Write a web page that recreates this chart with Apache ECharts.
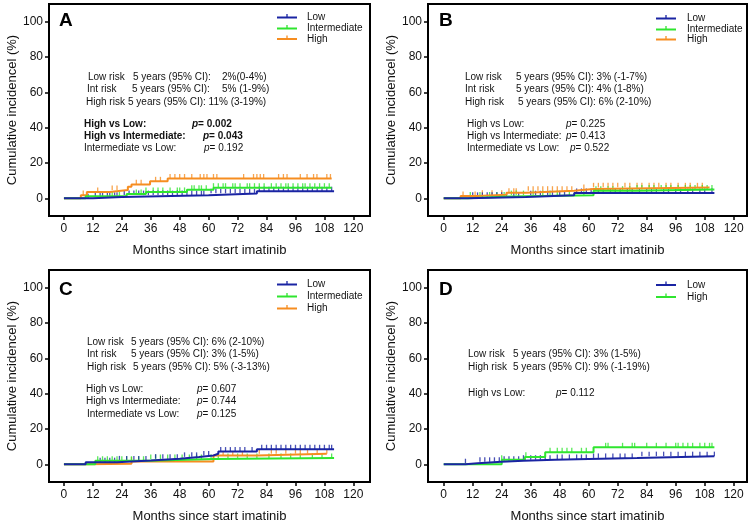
<!DOCTYPE html>
<html>
<head>
<meta charset="utf-8">
<script src="https://cdn.jsdelivr.net/npm/echarts@6/dist/echarts.min.js"></script>
<style>html,body{margin:0;padding:0;background:#fff}#c{width:752px;height:524px}</style>
</head>
<body>
<div id="c"></div>
<script>
// ---- tick labels ----
const xTicks = [0, 12, 24, 36, 48, 60, 72, 84, 96, 108, 120];
const yTicks = [0, 20, 40, 60, 80, 100];

// ---- step data: [month, cumulative incidence %] ----
const aHighSteps = [[0,0],[7,1.8],[9.5,3.6],[19,4.7],[26.5,6.6],[28,7.9],[35.7,9.6],[43,11.2],[111,11.2]];
const aIntSteps  = [[0,0],[9,1.2],[26,2.4],[34,3.6],[51,4.8],[62,6.0],[111,6.0]];
const aLowSteps  = [[0,0],[12,0.8],[24,1.8],[60,2.8],[80,4.0],[112,4.0]];

const bHighSteps = [[0,0],[7,1.3],[14,2.0],[26,3.2],[34,4.3],[54,5.3],[62,6.2],[110,6.2]];
const bIntSteps  = [[0,0],[10,1.0],[27,1.8],[62,4.3],[80,5.0],[112,5.0]];
const bLowSteps  = [[0,0],[10,0.8],[34,1.7],[54,3.0],[112,3.0]];

const cHighSteps = [[0,0],[9,0.4],[28,1.6],[62,5.0],[80,6.0],[109,6.0]];
const cIntSteps  = [[0,0],[13,2.0],[35,3.0],[62,3.6],[112,3.6]];
const cLowSteps  = [[0,0],[9,1.2],[22,2.2],[36,3.2],[48,4.2],[56,5.0],[62,6.0],[64,7.2],[80,8.5],[112,8.5]];

const dHighSteps = [[0,0],[24,2.6],[33.6,4.2],[42,6.8],[62,9.6],[112,9.6]];
const dLowSteps  = [[0,0],[9,0.6],[14,1.4],[24,2.0],[33,2.6],[46,3.0],[60,3.6],[80,4.6],[112,4.6]];

// ---- censoring times (months) ----
const aHighCens = [8,14,20,22,30,32,38,40,44,46,48,50,53,56.5,58,59.3,62,63.4,74.5,78.6,80,81.4,82.8,89,91,92.5,98,100.8,103.5,104.9,109,110.5];
const aIntCens  = [20,23,30,32,34,37,39,41,44,47,48,50,53,54,56,57,59,62,64,66,67,70,71,73,76,77,79,81,83,86,88,90,92,93,95,97,99,100,102,104,106,108,110];
const aLowCens  = [10,13,15,16,18,19,21,22,25,27,29,31,33,35,37,39,41,43,45,47,49,51,53,55,57,58,61,63,65,67,69,71,73,75,77,79,81,83,85,87,89,91,93,95,97,99,101,103,105,107,109,111];

const bHighCens = [8,13,16,20,24,27,29,30,35,37,39,41,43,45,47,49,51,53,58,62,64,66,68,70,72,75,77,80,82,85,87,89,92,94,97,100,102,105,107];
const bIntCens  = [11,15,19,22,25,28,30,33,37,41,44,47,52,58,63,65,68,70,74,77,80,82,85,87,90,92,94,97,100,102,104,107,109,111];
const bLowCens  = [12,14,16,18,20,22,24,26,29,31,36,38,40,43,45,48,50,55,57,59,61,64,66,69,71,73,76,78,81,84,86,88,91,93,96,98,101,103,106,108,111];

const cHighCens = [28,66,70,74,81,86,88,92,96,98,101,105,109];
const cIntCens  = [14,16,18,20,22,24,26,28,31,33,36,38,40,43,46,49,52,55,57,61,64,68,72,76,80,85,90,94,98,103,107,111];
const cLowCens  = [15,17,19,21,23,26,29,31,34,38,41,44,47,50,53,55,58,60,65,67,69,71,73,75,78,82,84,86,88,90,92,94,96,98,100,102,104,106,108,110,111];

const dHighCens = [24,34,44,47,49,51,53,57,59,67,68,74,78,79,84,88,92,96,97,99,101,103,106,108,110,111];
const dLowCens  = [9,15,17,19,21,23,25,27,29,31,33,36,38,40,42,44,47,49,52,55,57,59,62,64,67,70,73,75,78,82,85,88,91,94,97,100,103,106,109,112];

// ---- series names ----
const namesABC = ['Low', 'Intermediate', 'High'];
const namesD = ['Low', 'High'];

// ---- styling ----
const FONT = '"Liberation Sans", Arial, Helvetica, sans-serif';
const BLUE = '#1a24a3', GREEN = '#2fe52f', ORANGE = '#f68d20';

const panels = [
  { letter:'A', grid:{left:49, top:4, width:321, height:212}, xr:[-6.2,126.9],
    series:[{name:'High',c:ORANGE,s:aHighSteps,k:aHighCens},{name:'Intermediate',c:GREEN,s:aIntSteps,k:aIntCens},{name:'Low',c:BLUE,s:aLowSteps,k:aLowCens}],
    legend:{names:namesABC, colors:[BLUE,GREEN,ORANGE], x:277, ys:[17.5,28.5,39], tx:307},
    lx:59, ly:21 },
  { letter:'B', grid:{left:428, top:4, width:319, height:212}, xr:[-6.5,125.5],
    series:[{name:'High',c:ORANGE,s:bHighSteps,k:bHighCens},{name:'Intermediate',c:GREEN,s:bIntSteps,k:bIntCens},{name:'Low',c:BLUE,s:bLowSteps,k:bLowCens}],
    legend:{names:namesABC, colors:[BLUE,GREEN,ORANGE], x:656, ys:[18.5,29.5,39.5], tx:687},
    lx:439, ly:21 },
  { letter:'C', grid:{left:49, top:270, width:321, height:212}, xr:[-6.2,126.9],
    series:[{name:'High',c:ORANGE,s:cHighSteps,k:cHighCens},{name:'Intermediate',c:GREEN,s:cIntSteps,k:cIntCens},{name:'Low',c:BLUE,s:cLowSteps,k:cLowCens}],
    legend:{names:namesABC, colors:[BLUE,GREEN,ORANGE], x:277, ys:[284.5,296.5,308.5], tx:307},
    lx:59, ly:290 },
  { letter:'D', grid:{left:428, top:270, width:319, height:212}, xr:[-6.5,125.5],
    series:[{name:'High',c:GREEN,s:dHighSteps,k:dHighCens},{name:'Low',c:BLUE,s:dLowSteps,k:dLowCens}],
    legend:{names:namesD, colors:[BLUE,GREEN], x:656, ys:[285,297], tx:687},
    lx:439, ly:290 }
];

function levelAt(steps, t) {
  let v = 0;
  for (const [x, y] of steps) { if (x <= t) v = y; else break; }
  return v;
}

const grids = [], xAxes = [], yAxes = [], series = [], graphic = [];
panels.forEach((p, i) => {
  grids.push(Object.assign({ show:true, borderColor:'#000', borderWidth:2, backgroundColor:'transparent' }, p.grid));
  xAxes.push({
    type:'value', gridIndex:i, min:p.xr[0], max:p.xr[1],
    axisLine:{ show:true, onZero:false, lineStyle:{ color:'#000', width:2 } },
    axisTick:{ show:true, length:4, customValues:xTicks, lineStyle:{ color:'#000', width:1.5 } },
    axisLabel:{ customValues:xTicks, fontSize:12, color:'#111', margin:7, fontFamily:FONT },
    splitLine:{ show:false },
    name:'Months since start imatinib', nameLocation:'middle', nameGap:28,
    nameTextStyle:{ fontSize:13, color:'#111', fontFamily:FONT }
  });
  yAxes.push({
    type:'value', gridIndex:i, min:-10, max:110,
    axisLine:{ show:true, onZero:false, lineStyle:{ color:'#000', width:2 } },
    axisTick:{ show:true, length:4, customValues:yTicks, lineStyle:{ color:'#000', width:1.5 } },
    axisLabel:{ customValues:yTicks, fontSize:12, color:'#111', margin:6, fontFamily:FONT },
    splitLine:{ show:false },
    name:'Cumulative incidencel (%)', nameLocation:'middle', nameGap:30,
    nameTextStyle:{ fontSize:13, color:'#111', fontFamily:FONT }
  });
  p.series.forEach(s => {
    series.push({
      type:'line', name:s.name, xAxisIndex:i, yAxisIndex:i, step:'end', data:s.s,
      symbol:'none', lineStyle:{ color:s.c, width:2 }, itemStyle:{ color:s.c }, animation:false, silent:true
    });
    series.push({
      type:'scatter', name:s.name, xAxisIndex:i, yAxisIndex:i,
      data:s.k.map(t => [t, levelAt(s.s, t)]),
      symbol:'rect', symbolSize:[1.3, 4.5], symbolOffset:[0, -2.3],
      itemStyle:{ color:s.c }, animation:false, silent:true
    });
  });
  // panel letter
  graphic.push({ type:'text', style:{ text:p.letter, x:p.lx, y:p.ly, font:'bold 19px ' + FONT, fill:'#000', verticalAlign:'middle' } });
  // legend
  p.legend.names.forEach((n, j) => {
    const y = p.legend.ys[j], c = p.legend.colors[j], x = p.legend.x;
    graphic.push({ type:'line', shape:{ x1:x, y1:y, x2:x+20, y2:y }, style:{ stroke:c, lineWidth:2 } });
    graphic.push({ type:'line', shape:{ x1:x+10, y1:y, x2:x+10, y2:y-3.5 }, style:{ stroke:c, lineWidth:1.3 } });
    graphic.push({ type:'text', style:{ text:n, x:p.legend.tx, y:y, font:'10px ' + FONT, fill:'#111', verticalAlign:'middle' } });
  });
});

function txt(t, x, y, bold) {
  graphic.push({ type:'text', style:{ text:t, x:x, y:y, font:(bold ? 'bold ' : '') + '10px ' + FONT, fill:'#111', verticalAlign:'middle' } });
}
function ptxt(t, x, y, bold) {
  graphic.push({ type:'text', style:{ text:'{i|p}= ' + t, x:x, y:y, font:(bold ? 'bold ' : '') + '10px ' + FONT, fill:'#111', verticalAlign:'middle',
    rich:{ i:{ fontStyle:'italic', fontWeight:bold ? 'bold' : 'normal', fontSize:10, fontFamily:FONT, fill:'#111' } } } });
}

// Panel A annotations
txt('Low risk', 88, 77); txt('5 years (95% CI):', 133, 77); txt('2%(0-4%)', 222, 77);
txt('Int risk', 87, 89.5); txt('5 years (95% CI):', 132, 89.5); txt('5% (1-9%)', 222, 89.5);
txt('High risk', 86, 102); txt('5 years (95% CI): 11% (3-19%)', 128, 102);
txt('High vs Low:', 84, 124, true); ptxt('0.002', 192, 124, true);
txt('High vs Intermediate:', 84, 136, true); ptxt('0.043', 203, 136, true);
txt('Intermediate vs Low:', 84, 148.5); ptxt('0.192', 204, 148.5);

// Panel B annotations
txt('Low risk', 465, 77); txt('5 years (95% CI): 3% (-1-7%)', 516, 77);
txt('Int risk', 465, 89.5); txt('5 years (95% CI): 4% (1-8%)', 516, 89.5);
txt('High risk', 465, 102); txt('5 years (95% CI): 6% (2-10%)', 518, 102);
txt('High vs Low:', 467, 124); ptxt('0.225', 566, 124);
txt('High vs Intermediate:', 467, 136); ptxt('0.413', 566, 136);
txt('Intermediate vs Low:', 467, 148.5); ptxt('0.522', 570, 148.5);

// Panel C annotations
txt('Low risk', 87, 342); txt('5 years (95% CI): 6% (2-10%)', 131, 342);
txt('Int risk', 87, 354.5); txt('5 years (95% CI): 3% (1-5%)', 131, 354.5);
txt('High risk', 87, 367); txt('5 years (95% CI): 5% (-3-13%)', 133, 367);
txt('High vs Low:', 86, 389); ptxt('0.607', 197, 389);
txt('High vs Intermediate:', 86, 401.5); ptxt('0.744', 197, 401.5);
txt('Intermediate vs Low:', 87, 414); ptxt('0.125', 197, 414);

// Panel D annotations
txt('Low risk', 468, 354); txt('5 years (95% CI): 3% (1-5%)', 513, 354);
txt('High risk', 468, 367); txt('5 years (95% CI): 9% (-1-19%)', 513, 367);
txt('High vs Low:', 468, 393); ptxt('0.112', 556, 393);

const chart = echarts.init(document.getElementById('c'), null, { renderer:'canvas' });
chart.setOption({
  animation:false,
  backgroundColor:'#fff',
  textStyle:{ fontFamily:FONT },
  grid:grids, xAxis:xAxes, yAxis:yAxes, series:series, graphic:graphic
});
</script>
</body>
</html>
